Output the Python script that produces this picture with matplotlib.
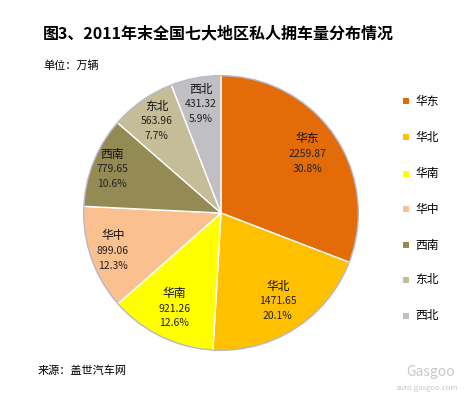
import matplotlib
matplotlib.use("Agg")
import matplotlib.pyplot as plt
from matplotlib.patches import Rectangle
import numpy as np

plt.rcParams['font.family'] = ['Noto Sans CJK SC', 'DejaVu Sans']

regions = ['华东', '华北', '华南', '华中', '西南', '东北', '西北']
values = [2259.87, 1471.65, 921.26, 899.06, 779.65, 563.96, 431.32]
percents = ['30.8%', '20.1%', '12.6%', '12.3%', '10.6%', '7.7%', '5.9%']
colors = ['#E36C09', '#FFC000', '#FFFF00', '#FAC090', '#948A54', '#C4BD97', '#BFBFC4']
label_r = [0.76, 0.76, 0.77, 0.83, 0.85, 0.81, 0.80]

W, H = 466, 395
fig = plt.figure(figsize=(W / 100, H / 100), dpi=100)
fig.patch.set_facecolor('white')

cx, cy, R = 221, 213, 138
ax = fig.add_axes([(cx - R) / W, (H - cy - R) / H, 2 * R / W, 2 * R / H])
wedges, _ = ax.pie(values, colors=colors, startangle=90, counterclock=False,
                   radius=1.0, wedgeprops=dict(edgecolor='white', linewidth=1.0))
ax.add_patch(plt.Circle((0, 0), 0.995, fill=False, edgecolor='#B8B8C8', linewidth=1.0))
ax.set_xlim(-1.0, 1.0)
ax.set_ylim(-1.0, 1.0)
ax.axis('off')

dy = 0.108
for w, name, v, p, r in zip(wedges, regions, values, percents, label_r):
    ang = np.deg2rad((w.theta1 + w.theta2) / 2)
    x, y = r * np.cos(ang), r * np.sin(ang)
    ax.text(x, y + dy, name, ha='center', va='center', fontsize=8.5, color='#111111')
    ax.text(x, y, f'{v:.2f}', ha='center', va='center', fontsize=7.5, color='#222222')
    ax.text(x, y - dy, p, ha='center', va='center', fontsize=7.5, color='#222222')

fig.text(43 / W, 1 - 33 / H, '图3、2011年末全国七大地区私人拥车量分布情况', fontsize=11.5,
         fontweight='bold', ha='left', va='center', color='black')
fig.text(43 / W, 1 - 66 / H, '单位：万辆', fontsize=8, ha='left', va='center', color='black')
fig.text(38 / W, 1 - 371 / H, '来源：盖世汽车网', fontsize=8, ha='left', va='center', color='black')

leg_y = [101, 137, 174, 209, 245, 280, 316]
for name, c, yy in zip(regions, colors, leg_y):
    fig.add_artist(Rectangle(((406 - 3) / W, (H - yy - 3) / H), 6 / W, 6 / H,
                             transform=fig.transFigure, facecolor=c, edgecolor='none'))
    fig.text(415 / W, 1 - yy / H, name, fontsize=8.5, ha='left', va='center', color='black')

fig.text(455 / W, 1 - 372 / H, 'Gasgoo', fontsize=10, ha='right', va='center', color='#C8C8C8')
fig.text(458 / W, 1 - 388 / H, 'auto.gasgoo.com', fontsize=5.5, ha='right', va='center', color='#C8C8C8')

fig.savefig('out.png', dpi=100, facecolor='white')
